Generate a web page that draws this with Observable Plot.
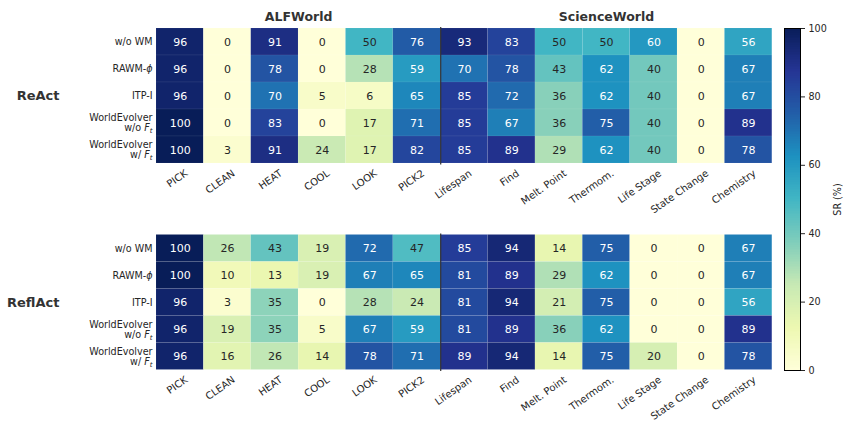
<!DOCTYPE html>
<html>
<head>
<meta charset="utf-8">
<script src="https://cdn.jsdelivr.net/npm/d3@7"></script>
<script src="https://cdn.jsdelivr.net/npm/@observablehq/plot@0.6"></script>
<style>
  html, body { margin: 0; padding: 0; background: #fff; }
  #wrap { position: relative; width: 850px; height: 422px; font-family: "DejaVu Sans", sans-serif; }
  #wrap > svg { position: absolute; left: 0; top: 0; }
</style>
</head>
<body>
<div id="wrap"></div>
<script>
// ---------- data ----------
const methods = ["ReAct", "ReflAct"];
const rows = ["w/o WM", "RAWM-ϕ", "ITP-I", "WorldEvolver\nw/o F_t", "WorldEvolver\nw/ F_t"];
const alfCols = ["PICK", "CLEAN", "HEAT", "COOL", "LOOK", "PICK2"];
const sciCols = ["Lifespan", "Find", "Melt. Point", "Thermom.", "Life Stage", "State Change", "Chemistry"];
const columns = [...alfCols, ...sciCols];

const reactValues = [
  [96, 0, 91, 0, 50, 76, 93, 83, 50, 50, 60, 0, 56],
  [96, 0, 78, 0, 28, 59, 70, 78, 43, 62, 40, 0, 67],
  [96, 0, 70, 5, 6, 65, 85, 72, 36, 62, 40, 0, 67],
  [100, 0, 83, 0, 17, 71, 85, 67, 36, 75, 40, 0, 89],
  [100, 3, 91, 24, 17, 82, 85, 89, 29, 62, 40, 0, 78]
];
const reflactValues = [
  [100, 26, 43, 19, 72, 47, 85, 94, 14, 75, 0, 0, 67],
  [100, 10, 13, 19, 67, 65, 81, 89, 29, 62, 0, 0, 67],
  [96, 3, 35, 0, 28, 24, 81, 94, 21, 75, 0, 0, 56],
  [96, 19, 35, 5, 67, 59, 81, 89, 36, 62, 0, 0, 89],
  [96, 16, 26, 14, 78, 71, 89, 94, 14, 75, 20, 0, 78]
];
const colorbarTicks = [0, 20, 40, 60, 80, 100];

// ---------- derived tables ----------
const valuesByMethod = { ReAct: reactValues, ReflAct: reflactValues };
const cells = methods.flatMap(m => rows.flatMap((r, ri) => columns.map((c, ci) => ({
  method: m, row: r, col: c, i: ci, value: valuesByMethod[m][ri][ci]
}))));
const tickData = methods.flatMap(m => columns.map((c, ci) => ({ method: m, col: c, i: ci })));
const rowData = methods.flatMap(m => rows.map(r => ({ method: m, row: r })));
const groups = [
  { name: "ALFWorld", center: alfCols.length / 2, facet: methods[0] },
  { name: "ScienceWorld", center: alfCols.length + sciCols.length / 2, facet: methods[0] }
];

// matplotlib YlGnBu anchors
const ylgnbu = ["#ffffd9", "#edf8b1", "#c7e9b4", "#7fcdbb", "#41b6c4", "#1d91c0", "#225ea8", "#253494", "#081d58"];
const colorScale = {
  type: "linear",
  domain: ylgnbu.map((_, k) => k * 100 / (ylgnbu.length - 1)),
  range: ylgnbu,
  interpolate: "rgb"
};
const dark = "#262626";
const font = "DejaVu Sans";

// ---------- main heatmaps ----------
const main = Plot.plot({
  width: 850,
  height: 422,
  marginLeft: 156,
  marginRight: 78.2,
  marginTop: 27,
  marginBottom: 51,
  style: { fontFamily: font, background: "transparent", overflow: "visible" },
  x: { domain: [0, columns.length], axis: null },
  y: { domain: rows, axis: null, padding: 0 },
  fy: { domain: methods, axis: null, paddingInner: 0.334, paddingOuter: 0, round: false },
  color: colorScale,
  marks: [
    Plot.barX(cells, {
      x1: "i", x2: d => d.i + 1, y: "row", fy: "method", fill: "value",
      stroke: "#ffffff", strokeOpacity: 0.12, strokeWidth: 0.5
    }),
    Plot.ruleX(methods, { x: alfCols.length, fy: d => d, stroke: "#333", strokeWidth: 1.2 }),
    Plot.text(cells.filter(d => d.value > 50), {
      x: d => d.i + 0.5, y: "row", fy: "method", text: d => String(d.value),
      fill: "white", fontSize: 11
    }),
    Plot.text(cells.filter(d => d.value <= 50), {
      x: d => d.i + 0.5, y: "row", fy: "method", text: d => String(d.value),
      fill: dark, fontSize: 11
    }),
    Plot.text(tickData, {
      x: d => d.i + 0.5, fy: "method", text: "col", frameAnchor: "bottom",
      textAnchor: "end", lineAnchor: "top", rotate: -35, dx: 4, dy: 4,
      fontSize: 10, fill: dark
    }),
    Plot.text(rowData, {
      y: "row", fy: "method", text: "row", frameAnchor: "left", textAnchor: "end",
      dx: -4, fontSize: 9.6, lineHeight: 1.05, fill: dark
    }),
    Plot.text(methods, {
      fy: d => d, text: d => d, frameAnchor: "left", textAnchor: "end", dx: -97,
      fontWeight: "bold", fontSize: 13, fill: "#333"
    }),
    Plot.text(groups, {
      x: "center", fy: "facet", text: "name", frameAnchor: "top", dy: -15,
      fontWeight: "bold", fontSize: 12.5, fill: "#333"
    })
  ]
});

// ---------- colorbar ----------
const stops = d3.range(0, 100, 0.5);
const bar = Plot.plot({
  width: 850,
  height: 422,
  marginLeft: 784,
  marginRight: 50,
  marginTop: 28,
  marginBottom: 52,
  style: { fontFamily: font, background: "transparent", overflow: "visible" },
  x: { domain: [0, 1], axis: null },
  y: { domain: [0, 100] },
  color: colorScale,
  marks: [
    Plot.rect(stops, {
      x1: 0, x2: 1, y1: d => d, y2: d => Math.min(100, d + 0.8),
      fill: d => d + 0.25, shapeRendering: "crispEdges"
    }),
    Plot.frame({ stroke: "#000", strokeWidth: 1 }),
    Plot.axisY({
      anchor: "right", ticks: colorbarTicks, tickSize: 4, tickPadding: 4,
      fontSize: 9.6, color: dark, label: "SR (%)", labelAnchor: "center",
      labelArrow: "none", labelOffset: 40
    })
  ]
});

const wrap = document.getElementById("wrap");
wrap.appendChild(main);
wrap.appendChild(bar);

// ---------- math-style label pieces ----------
function styleMath(svg) {
  const nodes = Array.from(svg.querySelectorAll("text, tspan")).filter(n =>
    n.children.length === 0 && (n.textContent.includes("F_t") || n.textContent.includes("ϕ")));
  for (const n of nodes) {
    const s = n.textContent;
    n.textContent = "";
    const parts = s.split(/(F_t|ϕ)/);
    for (const p of parts) {
      if (!p) continue;
      if (p === "F_t") {
        const f = document.createElementNS("http://www.w3.org/2000/svg", "tspan");
        f.setAttribute("font-style", "italic");
        f.textContent = "F";
        n.appendChild(f);
        const t = document.createElementNS("http://www.w3.org/2000/svg", "tspan");
        t.setAttribute("font-style", "italic");
        t.setAttribute("font-size", "0.72em");
        t.setAttribute("dy", "0.3em");
        t.textContent = "t";
        n.appendChild(t);
      } else if (p === "ϕ") {
        const f = document.createElementNS("http://www.w3.org/2000/svg", "tspan");
        f.setAttribute("font-style", "italic");
        f.textContent = "ϕ";
        n.appendChild(f);
      } else {
        n.appendChild(document.createTextNode(p));
      }
    }
  }
}
styleMath(main);
</script>
</body>
</html>
